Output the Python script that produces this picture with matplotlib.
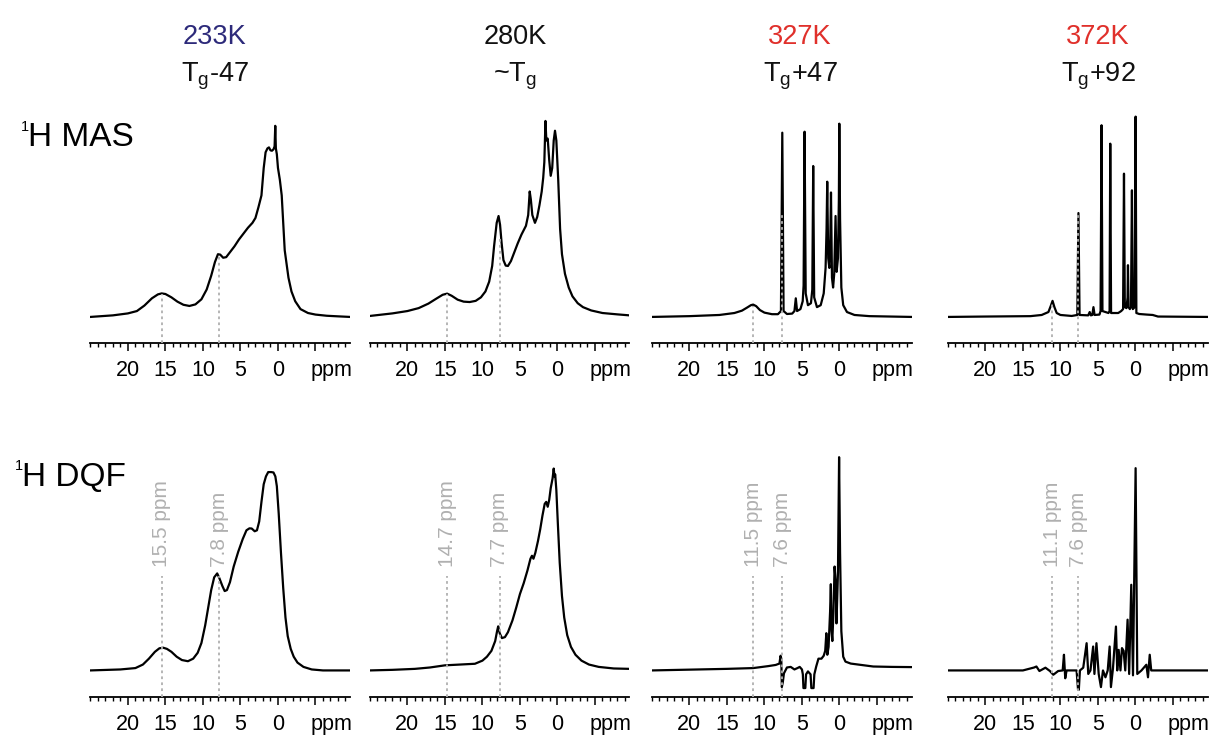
import matplotlib
matplotlib.use('Agg')
import matplotlib.pyplot as plt
from matplotlib.ticker import MultipleLocator

plt.rcParams['font.family'] = ['Liberation Sans', 'DejaVu Sans']
plt.rcParams['mathtext.fontset'] = 'custom'
plt.rcParams['mathtext.rm'] = 'Liberation Sans'
plt.rcParams['mathtext.it'] = 'Liberation Sans:italic'

# Заголовки столбцов
temps = ['233K', '280K', '327K', '372K']
temp_colors = ['#2d2a7a', '#111111', '#e0302b', '#e0302b']
tg_labels = [r'T$_\mathrm{g}$-47', r'~T$_\mathrm{g}$', r'T$_\mathrm{g}$+47', r'T$_\mathrm{g}$+92']
row_labels = ['H MAS', 'H DQF']

# Отмеченные положения пиков (ppm) и высота пунктирных линий в спектрах MAS
mark_ppm = [[15.5, 7.8], [14.7, 7.7], [11.5, 7.6], [11.1, 7.6]]
mas_mark_top = [[0.115, 0.31], [0.115, 0.40], [0.055, 0.52], [0.075, 0.53]]

# 1H MAS, 233K  (ppm, интенсивность)
mas_233 = [(25.0, 0.0), (22.0, 0.008), (20.0, 0.018), (18.8, 0.03), (17.8, 0.058), (16.8, 0.095),
           (16.0, 0.115), (15.5, 0.12), (15.0, 0.117), (14.2, 0.1), (13.4, 0.078), (12.6, 0.062),
           (11.8, 0.056), (11.0, 0.064), (10.2, 0.09), (9.5, 0.14), (8.9, 0.21), (8.4, 0.28),
           (8.0, 0.32), (7.7, 0.318), (7.3, 0.302), (6.9, 0.305), (6.4, 0.33), (5.8, 0.36),
           (5.2, 0.395), (4.6, 0.425), (4.0, 0.455), (3.4, 0.48), (3.0, 0.505), (2.6, 0.56),
           (2.2, 0.62), (1.9, 0.76), (1.65, 0.84), (1.4, 0.86), (1.2, 0.865), (1.0, 0.85),
           (0.8, 0.848), (0.6, 0.855), (0.45, 0.87), (0.36, 0.975), (0.28, 0.86), (0.15, 0.83),
           (0.0, 0.76), (-0.25, 0.7), (-0.5, 0.62), (-0.9, 0.34), (-1.4, 0.2), (-1.8, 0.13),
           (-2.3, 0.08), (-3.0, 0.04), (-4.0, 0.02), (-5.0, 0.012), (-6.5, 0.006), (-8.0, 0.003),
           (-9.6, 0.0)]

# 1H MAS, 280K
mas_280 = [(25.0, 0.005), (22.0, 0.018), (20.0, 0.03), (18.5, 0.045), (17.2, 0.068), (16.2, 0.092),
           (15.3, 0.113), (14.7, 0.119), (14.1, 0.108), (13.3, 0.088), (12.5, 0.078), (11.7, 0.076),
           (10.9, 0.082), (10.2, 0.1), (9.6, 0.13), (9.1, 0.18), (8.7, 0.26), (8.45, 0.36),
           (8.1, 0.48), (7.85, 0.515), (7.65, 0.47), (7.45, 0.38), (7.2, 0.29), (6.9, 0.262),
           (6.6, 0.26), (6.2, 0.285), (5.8, 0.325), (5.3, 0.375), (4.8, 0.42), (4.2, 0.465),
           (3.9, 0.52), (3.7, 0.64), (3.55, 0.6), (3.35, 0.52), (3.0, 0.48), (2.7, 0.51),
           (2.4, 0.57), (2.1, 0.64), (1.9, 0.71), (1.75, 0.79), (1.6, 1.0), (1.48, 0.9),
           (1.3, 0.91), (1.1, 0.8), (0.9, 0.72), (0.7, 0.76), (0.5, 0.9), (0.33, 0.95),
           (0.15, 0.9), (-0.1, 0.7), (-0.35, 0.45), (-0.6, 0.32), (-1.0, 0.22), (-1.5, 0.15),
           (-2.0, 0.105), (-2.7, 0.07), (-3.4, 0.05), (-4.5, 0.033), (-6.0, 0.02), (-8.0, 0.013),
           (-9.6, 0.008)]

# 1H MAS, 327K
mas_327 = [(25.0, 0.0), (20.0, 0.004), (16.0, 0.01), (14.0, 0.02), (13.0, 0.032), (12.3, 0.048),
           (11.8, 0.06), (11.5, 0.063), (11.1, 0.055), (10.6, 0.035), (10.0, 0.022), (9.0, 0.014),
           (8.2, 0.014), (7.8, 0.03), (7.62, 0.94), (7.45, 0.03), (7.0, 0.015), (6.3, 0.017),
           (6.0, 0.03), (5.82, 0.095), (5.65, 0.03), (5.2, 0.04), (4.9, 0.08), (4.78, 0.16),
           (4.65, 0.945), (4.5, 0.12), (4.2, 0.06), (3.8, 0.07), (3.62, 0.14), (3.5, 0.77),
           (3.37, 0.1), (3.0, 0.05), (2.5, 0.06), (2.1, 0.12), (1.85, 0.25), (1.72, 0.45),
           (1.63, 0.69), (1.5, 0.3), (1.35, 0.25), (1.22, 0.4), (1.13, 0.635), (1.0, 0.2),
           (0.85, 0.15), (0.7, 0.22), (0.52, 0.515), (0.38, 0.23), (0.2, 0.3), (0.08, 0.6),
           (0.02, 0.986), (-0.08, 0.5), (-0.25, 0.15), (-0.5, 0.06), (-1.0, 0.025), (-2.0, 0.01),
           (-4.0, 0.004), (-9.6, 0.0)]

# 1H MAS, 372K
mas_372 = [(25.0, 0.0), (20.0, 0.002), (14.0, 0.004), (12.5, 0.01), (11.6, 0.025), (11.25, 0.06),
           (11.05, 0.082), (10.8, 0.05), (10.5, 0.02), (10.0, 0.01), (8.5, 0.005), (7.75, 0.01),
           (7.6, 0.53), (7.45, 0.01), (6.3, 0.008), (6.1, 0.025), (5.95, 0.008), (5.75, 0.01),
           (5.6, 0.05), (5.45, 0.01), (4.8, 0.012), (4.65, 0.03), (4.52, 0.978), (4.4, 0.03),
           (3.6, 0.02), (3.45, 0.03), (3.36, 0.884), (3.25, 0.02), (2.3, 0.02), (1.9, 0.03),
           (1.65, 0.04), (1.53, 0.731), (1.42, 0.05), (1.2, 0.045), (1.05, 0.1), (1.0, 0.264),
           (0.92, 0.05), (0.75, 0.04), (0.6, 0.05), (0.47, 0.646), (0.35, 0.04), (0.1, 0.05),
           (-0.02, 1.022), (-0.12, 0.02), (-0.5, 0.015), (-1.5, 0.012), (-2.3, 0.01), (-3.0, 0.002),
           (-9.6, 0.0)]

# 1H DQF, 233K
dqf_233 = [(25.0, 0.0), (21.0, 0.005), (19.0, 0.012), (18.0, 0.03), (17.2, 0.06), (16.4, 0.095),
           (15.8, 0.113), (15.3, 0.116), (14.8, 0.11), (14.2, 0.095), (13.5, 0.07), (12.8, 0.053),
           (12.0, 0.047), (11.3, 0.06), (10.7, 0.09), (10.2, 0.14), (9.7, 0.23), (9.3, 0.32),
           (8.9, 0.41), (8.5, 0.475), (8.1, 0.495), (7.8, 0.47), (7.4, 0.43), (7.1, 0.405),
           (6.8, 0.41), (6.4, 0.45), (5.9, 0.53), (5.3, 0.605), (4.7, 0.67), (4.2, 0.715),
           (3.8, 0.725), (3.5, 0.724), (3.1, 0.71), (2.8, 0.715), (2.5, 0.76), (2.2, 0.86),
           (1.9, 0.95), (1.6, 0.99), (1.3, 1.012), (0.9, 1.012), (0.6, 1.01), (0.35, 0.99),
           (0.15, 0.94), (-0.1, 0.8), (-0.4, 0.6), (-0.7, 0.42), (-1.0, 0.27), (-1.3, 0.175),
           (-1.7, 0.11), (-2.1, 0.07), (-2.6, 0.04), (-3.4, 0.018), (-4.5, 0.005), (-6.0, 0.0),
           (-9.6, 0.0)]

# 1H DQF, 280K
dqf_280 = [(25.0, 0.0), (22.0, 0.003), (19.0, 0.008), (17.0, 0.015), (15.0, 0.026), (13.0, 0.03),
           (11.0, 0.034), (10.0, 0.05), (9.4, 0.07), (8.8, 0.1), (8.3, 0.15), (8.05, 0.2),
           (7.9, 0.225), (7.7, 0.19), (7.4, 0.165), (7.0, 0.17), (6.6, 0.195), (6.0, 0.255),
           (5.5, 0.32), (5.0, 0.39), (4.5, 0.445), (4.0, 0.51), (3.6, 0.57), (3.4, 0.585),
           (3.2, 0.57), (2.95, 0.6), (2.6, 0.66), (2.3, 0.72), (2.0, 0.79), (1.7, 0.85),
           (1.5, 0.86), (1.3, 0.835), (1.1, 0.87), (0.9, 0.93), (0.65, 0.98), (0.5, 1.03),
           (0.4, 0.99), (0.3, 1.0), (0.15, 0.92), (-0.05, 0.75), (-0.3, 0.55), (-0.6, 0.38),
           (-0.9, 0.27), (-1.3, 0.18), (-1.8, 0.12), (-2.4, 0.08), (-3.2, 0.05), (-4.2, 0.03),
           (-5.5, 0.018), (-7.5, 0.01), (-9.6, 0.008)]

# 1H DQF, 327K
dqf_327 = [(25.0, 0.0), (20.0, 0.004), (15.0, 0.008), (11.5, 0.012), (9.5, 0.022), (8.5, 0.028),
           (8.0, 0.035), (7.85, 0.075), (7.75, 0.06), (7.68, -0.085), (7.55, -0.06), (7.4, -0.015),
           (7.0, 0.015), (6.5, 0.018), (6.0, 0.005), (5.6, 0.012), (5.3, 0.018), (5.0, 0.005),
           (4.88, -0.02), (4.8, -0.09), (4.55, -0.09), (4.45, -0.02), (4.2, -0.005), (3.85, -0.02),
           (3.75, -0.09), (3.45, -0.09), (3.35, -0.02), (3.1, 0.02), (2.8, 0.06), (2.4, 0.06),
           (2.1, 0.075), (1.9, 0.1), (1.75, 0.19), (1.62, 0.08), (1.45, 0.12), (1.25, 0.3),
           (1.15, 0.44), (1.05, 0.2), (0.95, 0.15), (0.8, 0.3), (0.65, 0.53), (0.5, 0.45),
           (0.4, 0.24), (0.2, 0.5), (0.05, 1.088), (-0.08, 0.6), (-0.25, 0.2), (-0.5, 0.07),
           (-0.8, 0.045), (-1.5, 0.035), (-2.5, 0.03), (-4.5, 0.02), (-7.0, 0.018), (-9.6, 0.017)]

# 1H DQF, 372K
dqf_372 = [(25.0, 0.0), (15.0, 0.0), (14.1, 0.009), (13.5, 0.015), (13.2, 0.02), (12.8, -0.003),
           (12.0, 0.014), (11.4, -0.003), (10.95, -0.022), (10.3, -0.003), (9.7, 0.0), (9.53, 0.08),
           (9.36, -0.04), (9.18, 0.0), (7.85, 0.0), (7.65, -0.099), (7.55, -0.099), (7.4, 0.0),
           (6.96, 0.014), (6.51, 0.139), (6.29, -0.018), (6.0, 0.0), (5.64, 0.122), (5.47, -0.018),
           (5.2, 0.139), (4.9, -0.018), (4.6, -0.085), (4.33, 0.0), (4.0, -0.035), (3.7, 0.0),
           (3.44, 0.122), (3.27, -0.085), (3.0, 0.01), (2.6, 0.224), (2.43, 0.0), (2.24, 0.105),
           (2.0, 0.0), (1.8, 0.114), (1.58, 0.1), (1.36, 0.0), (1.05, 0.259), (0.84, -0.018),
           (0.56, 0.437), (0.33, -0.025), (-0.02, 1.032), (-0.24, -0.018), (-0.8, 0.0),
           (-1.45, 0.029), (-1.67, -0.035), (-1.9, 0.08), (-2.1, 0.0), (-2.8, 0.0), (-9.6, 0.0)]

mas_spectra = [mas_233, mas_280, mas_327, mas_372]
dqf_spectra = [dqf_233, dqf_280, dqf_327, dqf_372]

# Разметка в пикселях
W, H = 1217, 740
fig = plt.figure(figsize=(W / 100, H / 100), dpi=100)

col_left = [90, 369.5, 651.5, 947.5]
col_width = 260
row_bottom = [343, 696.5]
ylo, yhi = -0.133, 1.2
row_height = (yhi - ylo) * 196
gray = '#b0b0b0'
tick_len, tick_pad = 5.5, 7.0


def make_axes(left, bottom):
    ax = fig.add_axes([left / W, 1 - bottom / H, col_width / W, row_height / H])
    ax.set_facecolor('none')
    ax.set_xlim(25.05, -9.6)
    ax.set_ylim(ylo, yhi)
    for s in ['left', 'top', 'right']:
        ax.spines[s].set_visible(False)
    ax.spines['bottom'].set_linewidth(1.3)
    ax.set_yticks([])
    ax.set_xticks([20, 15, 10, 5, 0, -5], labels=['20', '15', '10', '5', '0', ''])
    ax.xaxis.set_minor_locator(MultipleLocator(1))
    ax.tick_params(axis='x', which='major', length=tick_len, width=1.1, pad=tick_pad, labelsize=15.5)
    ax.tick_params(axis='x', which='minor', length=3, width=1.0)
    ax.annotate('ppm', xy=(-7.1, 0), xycoords=('data', 'axes fraction'),
                xytext=(0, -(tick_len + tick_pad)), textcoords='offset points',
                ha='center', va='top', fontsize=15.5)
    return ax


for i in range(4):
    # MAS
    ax = make_axes(col_left[i], row_bottom[0])
    x = [p[0] for p in mas_spectra[i]]
    y = [p[1] for p in mas_spectra[i]]
    ax.plot(x, y, color='black', lw=1.6, zorder=2)
    for p, top in zip(mark_ppm[i], mas_mark_top[i]):
        ax.plot([p, p], [ylo, top], color=gray, lw=1.3, ls=(0, (1.5, 1.8)), zorder=3)

    # DQF
    ax = make_axes(col_left[i], row_bottom[1])
    x = [p[0] for p in dqf_spectra[i]]
    y = [p[1] for p in dqf_spectra[i]]
    ax.plot(x, y, color='black', lw=1.6, zorder=2)
    for p in mark_ppm[i]:
        ax.plot([p, p], [ylo, 0.48], color=gray, lw=1.3, ls=(0, (1.5, 1.8)), zorder=3)
        ax.text(p, 0.53, f'{p:.1f} ppm', rotation=90, ha='center', va='bottom',
                color=gray, fontsize=15)

# Заголовки столбцов
title_x = [215, 515, 800, 1098]
for i in range(4):
    fig.text(title_x[i] / W, 1 - 44 / H, temps[i], color=temp_colors[i],
             ha='center', va='baseline', fontsize=19.5)
    fig.text(title_x[i] / W, 1 - 82 / H, tg_labels[i], color='#111111',
             ha='center', va='baseline', fontsize=19.5)

# Подписи строк
fig.text(28 / W, 1 - 146 / H, row_labels[0], fontsize=24, va='baseline')
fig.text(21 / W, 1 - 131 / H, '1', fontsize=10.5, va='baseline')
fig.text(22 / W, 1 - 486 / H, row_labels[1], fontsize=24, va='baseline')
fig.text(15 / W, 1 - 470 / H, '1', fontsize=10.5, va='baseline')

fig.savefig('out.png', dpi=100)
